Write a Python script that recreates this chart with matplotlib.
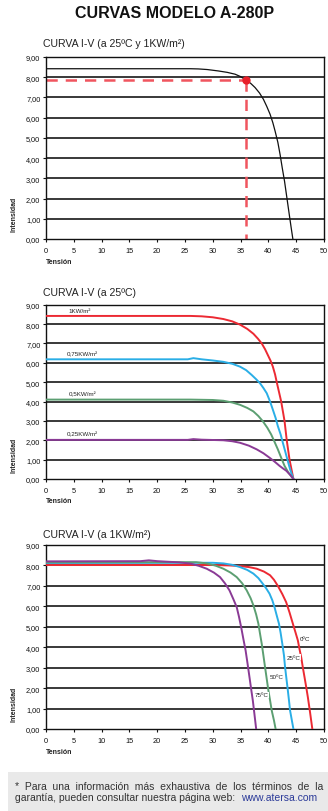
import matplotlib
matplotlib.use("Agg")
import matplotlib.pyplot as plt
import numpy as np

plt.rcParams['font.family'] = ['Liberation Sans', 'DejaVu Sans']

# chart 1: I-V curve at 25ºC and 1KW/m2
v_std = [0, 26, 27.4, 29, 31, 32.6, 34, 35, 35.9, 36.8, 37.6, 38.4, 39.1, 39.7, 40.3, 40.8,
         41.2, 41.7, 42.1, 42.5, 42.9, 43.2, 43.5, 43.8, 44.1, 44.4]
i_std = [8.42, 8.42, 8.41, 8.38, 8.31, 8.24, 8.15, 8.03, 7.87, 7.70, 7.49, 7.22, 6.91, 6.56, 6.17, 5.75,
         5.34, 4.78, 4.18, 3.50, 2.86, 2.28, 1.70, 1.12, 0.55, 0.0]
v_mpp = 35.9
i_mpp = 7.87

# chart 2: irradiance
irr_labels = ['1KW/m²', '0,75KW/m²', '0,5KW/m²', '0,25KW/m²']
irr_colors = ['#ec2a33', '#2aaee6', '#5c9f72', '#8a3a95']
irr_v = [
    [0, 26, 28, 30, 31.9, 33.5, 34.9, 36.2, 37.3, 38.1, 38.8, 39.4, 39.9, 40.4, 40.8, 41.2, 41.5,
     41.9, 42.3, 42.6, 42.9, 43.1, 43.3, 43.55, 43.8, 44.15, 44.5],
    [0, 25.5, 26.5, 28, 30, 31.9, 33.5, 34.9, 36, 37.0, 37.8, 38.5, 39.1, 39.7, 40.3, 40.8, 41.3,
     41.7, 42.2, 42.6, 43.0, 43.4, 43.9, 44.5],
    [0, 26, 30, 31.9, 33.5, 34.9, 36.2, 37.3, 38.2, 39.0, 39.8, 40.5, 41.1, 41.7, 42.3, 42.9, 43.6, 44.5],
    [0, 25.5, 26.5, 28, 31.9, 33.5, 34.9, 36.5, 37.9, 39.1, 40.2, 41.1, 42.0, 42.6, 43.2, 43.9, 44.5],
]
irr_i = [
    [8.42, 8.42, 8.40, 8.35, 8.26, 8.14, 7.97, 7.75, 7.50, 7.25, 7.0, 6.7, 6.40, 6.1, 5.80, 5.4, 5.0,
     4.5, 4.0, 3.5, 3.0, 2.5, 2.0, 1.5, 1.0, 0.5, 0.0],
    [6.18, 6.18, 6.24, 6.18, 6.12, 6.05, 5.95, 5.80, 5.62, 5.37, 5.15, 4.94, 4.70, 4.43, 4.0, 3.58, 3.15,
     2.73, 2.3, 1.87, 1.45, 1.02, 0.5, 0.0],
    [4.10, 4.10, 4.08, 4.04, 3.95, 3.83, 3.67, 3.49, 3.25, 2.98, 2.65, 2.30, 1.92, 1.53, 1.10, 0.68, 0.33, 0.0],
    [2.02, 2.02, 2.06, 2.03, 2.00, 1.95, 1.87, 1.72, 1.53, 1.33, 1.10, 0.90, 0.68, 0.55, 0.43, 0.22, 0.0],
]
irr_lab_x = [4.0, 3.7, 4.1, 3.8]
irr_lab_y = [8.69, 6.45, 4.39, 2.37]

# chart 3: temperature
tmp_labels = ['0ºC', '25ºC', '50ºC', '75ºC']
tmp_colors = ['#ec2a33', '#2aaee6', '#5c9f72', '#8a3a95']
tmp_v = [
    [0, 30, 33, 34.9, 36.5, 37.9, 39.2, 40.3, 41.0, 41.7, 42.5, 43.2, 43.8, 44.4, 44.9, 45.3, 45.6,
     45.9, 46.2, 46.5, 46.8, 47.1, 47.5, 47.9],
    [0, 28, 30, 31.9, 33.5, 34.9, 36.2, 37.3, 38.2, 39.0, 39.6, 40.2, 40.7, 41.1, 41.5, 41.9, 42.2,
     42.5, 42.8, 43.0, 43.25, 43.5, 43.7, 43.9, 44.2, 44.5],
    [0, 27, 28.9, 30.5, 31.9, 33.2, 34.3, 35.3, 36.1, 36.8, 37.3, 37.8, 38.2, 38.5, 38.8, 39.1, 39.4,
     39.7, 40.0, 40.3, 40.6, 41.0, 41.3],
    [0, 17, 18.5, 20, 24, 26.0, 27.5, 28.9, 30.2, 31.3, 32.2, 33.0, 33.7, 34.3, 34.7, 35.1, 35.5,
     35.9, 36.25, 36.6, 36.9, 37.2, 37.5, 37.8],
]
tmp_i = [
    [8.02, 8.02, 8.0, 7.97, 7.92, 7.84, 7.70, 7.52, 7.3, 7.0, 6.6, 6.2, 5.7, 5.15, 4.7, 4.33, 3.9,
     3.51, 3.0, 2.53, 2.05, 1.55, 0.8, 0.0],
    [8.12, 8.13, 8.13, 8.10, 8.03, 7.92, 7.78, 7.60, 7.38, 7.10, 6.88, 6.62, 6.30, 5.96, 5.55, 5.15, 4.7,
     4.17, 3.6, 3.02, 2.45, 1.88, 1.4, 0.90, 0.45, 0.0],
    [8.15, 8.16, 8.10, 7.99, 7.84, 7.65, 7.43, 7.12, 6.78, 6.40, 6.05, 5.6, 5.15, 4.65, 4.17, 3.6, 3.02,
     2.45, 1.88, 1.4, 0.90, 0.42, 0.0],
    [8.20, 8.21, 8.25, 8.21, 8.15, 8.09, 7.98, 7.84, 7.65, 7.43, 7.12, 6.78, 6.35, 5.96, 5.5, 4.98, 4.4,
     3.84, 3.2, 2.53, 1.95, 1.39, 0.7, 0.0],
]
tmp_lab_x = [45.7, 43.3, 40.3, 37.5]
tmp_lab_y = [4.44, 3.51, 2.58, 1.68]

titles = ['CURVA I-V (a 25ºC y 1KW/m²)', 'CURVA I-V (a 25ºC)', 'CURVA I-V (a 1KW/m²)']

W, H = 328, 812
fig = plt.figure(figsize=(W / 100, H / 100), dpi=100)

fig.text(175 / W, 1 - 14 / H, 'CURVAS MODELO A-280P', ha='center', va='center',
         fontsize=11.5, fontweight='bold', color='#111111')

# axes boxes in pixels: (top, bottom)
boxes = [(58, 240), (305.7, 480), (546, 730)]
title_y = [44, 293, 535]
axes = []
for k, (top, bot) in enumerate(boxes):
    ax = fig.add_axes([46 / W, 1 - bot / H, 278 / W, (bot - top) / H])
    ax.set_xlim(0, 50)
    ax.set_ylim(0, 9)
    ax.set_xticks(np.arange(0, 51, 5))
    ax.set_yticks(np.arange(0, 10, 1))
    ax.set_yticklabels([f'{v:.2f}'.replace('.', ',') for v in np.arange(0, 10, 1)])
    ax.tick_params(axis='both', labelsize=5.3, length=2, width=0.8, colors='#111111')
    ax.tick_params(axis='x', pad=3.5)
    ax.tick_params(axis='y', pad=2)
    for y in range(1, 9):
        ax.axhline(y, color='#2a2a2a', lw=1.3, zorder=1)
    for s in ax.spines.values():
        s.set_linewidth(1.0)
        s.set_color('#111111')
    ax.text(-0.115, 0.14, 'Intensidad', transform=ax.transAxes, rotation=90,
            ha='center', va='center', fontsize=5, fontweight='bold', color='#222222')
    ax.text(0.0, -0.125, 'Tensión', transform=ax.transAxes, ha='left', va='center',
            fontsize=5, fontweight='bold', color='#222222')
    fig.text(43 / W, 1 - title_y[k] / H, titles[k], ha='left', va='center',
             fontsize=7.6, color='#222222')
    axes.append(ax)

ax1, ax2, ax3 = axes

# chart 1
ax1.plot(v_std, i_std, color='#111111', lw=0.9, zorder=3)
ax1.plot([0, v_mpp], [i_mpp, i_mpp], color='#f0555f', lw=1.8, dashes=(4.5, 3.2), zorder=2)
ax1.plot([v_mpp, v_mpp], [i_mpp, 0], color='#f0555f', lw=1.8, dashes=(4.5, 3.2), zorder=2)
ax1.plot([v_mpp], [i_mpp], 'o', color='#e8202a', ms=5, zorder=4)

# chart 2
for v, i, c, lab, lx, ly in zip(irr_v, irr_i, irr_colors, irr_labels, irr_lab_x, irr_lab_y):
    ax2.plot(v, i, color=c, lw=1.4, zorder=3, solid_joinstyle='round')
    ax2.text(lx, ly, lab, fontsize=4.5, ha='left', va='center', color='#222222', zorder=4)

# chart 3
for v, i, c, lab, lx, ly in zip(tmp_v, tmp_i, tmp_colors, tmp_labels, tmp_lab_x, tmp_lab_y):
    ax3.plot(v, i, color=c, lw=1.4, zorder=3, solid_joinstyle='round')
    ax3.text(lx, ly, lab, fontsize=4.5, ha='left', va='center', color='#222222', zorder=4,
             bbox=dict(facecolor='white', edgecolor='none', pad=0.3))

# footer box
fig.patches.append(plt.Rectangle((8 / W, 0), 1, 39 / H, transform=fig.transFigure,
                                 facecolor='#e9e9e9', edgecolor='none', zorder=0))
fig.text(15 / W, 1 - 787 / H,
         '*  Para  una  información  más  exhaustiva  de  los  términos  de  la',
         ha='left', va='center', fontsize=7.5, color='#333333')
t2 = fig.text(15 / W, 1 - 798 / H, 'garantía, pueden consultar nuestra página web:  ',
              ha='left', va='center', fontsize=7.5, color='#333333')
fig.canvas.draw()
bb = t2.get_window_extent()
fig.text(bb.x1 / W, 1 - 798 / H, 'www.atersa.com', ha='left', va='center',
         fontsize=7.5, color='#2b3a99')

fig.savefig('out.png', dpi=100)
